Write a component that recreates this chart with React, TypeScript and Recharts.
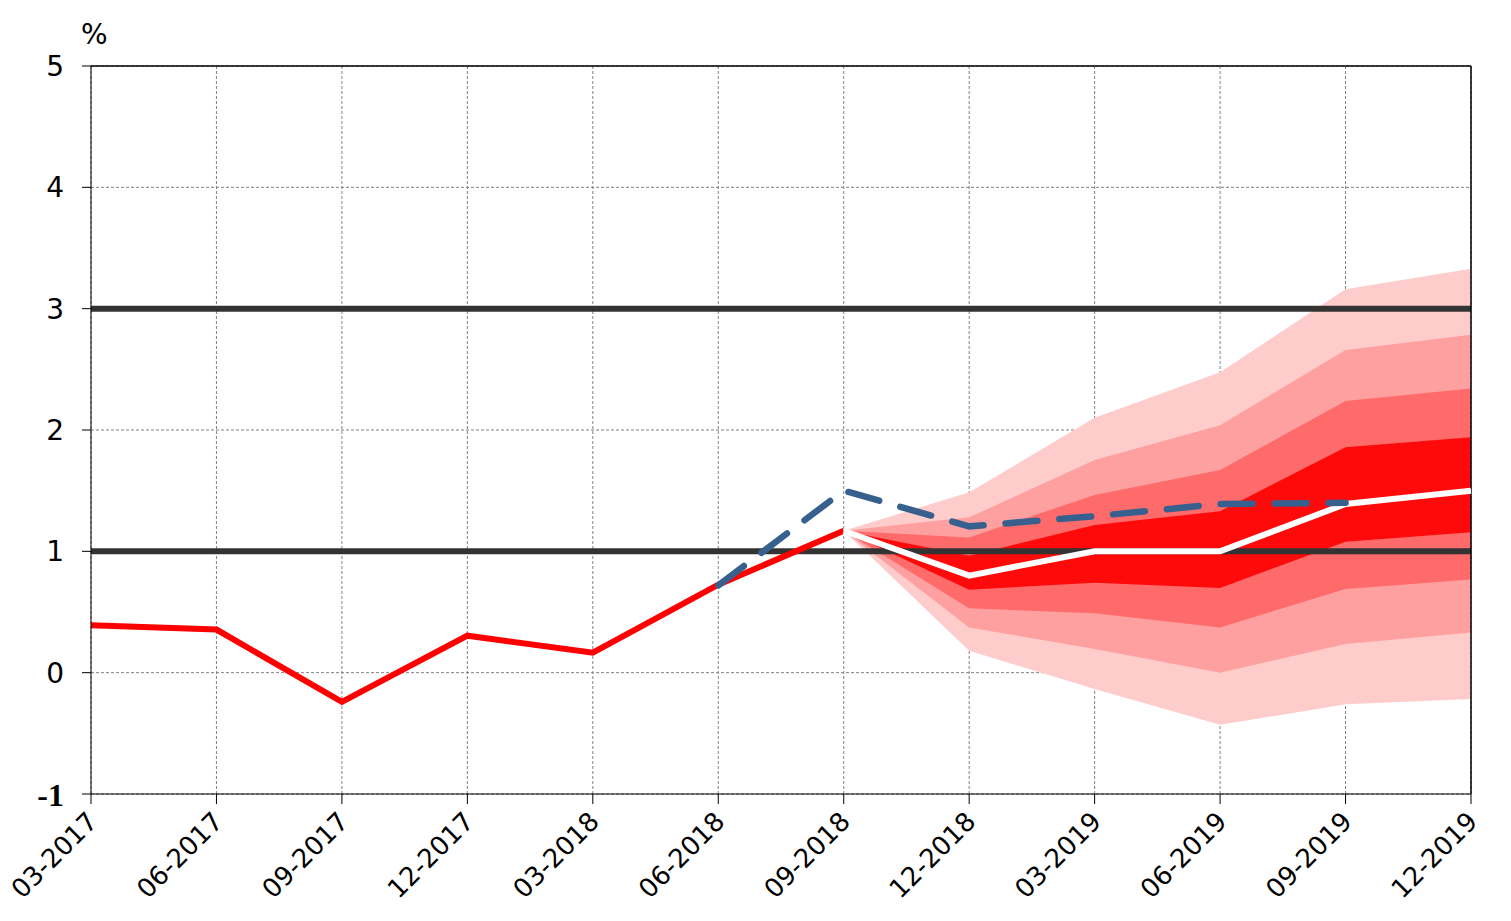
import { Area, CartesianGrid, ComposedChart, Line, ReferenceLine, XAxis, YAxis } from 'recharts'

const QUARTERS = [
  '03-2017', '06-2017', '09-2017', '12-2017', '03-2018', '06-2018',
  '09-2018', '12-2018', '03-2019', '06-2019', '09-2019', '12-2019',
]
const Y_TICKS = [-1, 0, 1, 2, 3, 4, 5]

// realised inflation
const actual = [0.39, 0.355, -0.24, 0.305, 0.165, 0.725, 1.17, null, null, null, null, null]
// central projection (white)
const central = [null, null, null, null, null, null, 1.17, 0.8, 1.0, 1.0, 1.39, 1.5]
// previous projection (blue dashed)
const previous = [null, null, null, null, null, 0.72, 1.5, 1.206, 1.29, 1.39, 1.4, null]

// fan bands, outermost first
const outerLo = [null, null, null, null, null, null, 1.17, 0.18, -0.135, -0.43, -0.26, -0.217]
const outerHi = [null, null, null, null, null, null, 1.17, 1.486, 2.1, 2.475, 3.16, 3.33]
const band2Lo = [null, null, null, null, null, null, 1.17, 0.373, 0.195, 0.0, 0.236, 0.332]
const band2Hi = [null, null, null, null, null, null, 1.17, 1.28, 1.753, 2.04, 2.66, 2.786]
const band3Lo = [null, null, null, null, null, null, 1.17, 0.53, 0.489, 0.373, 0.69, 0.767]
const band3Hi = [null, null, null, null, null, null, 1.17, 1.115, 1.465, 1.67, 2.24, 2.343]
const innerLo = [null, null, null, null, null, null, 1.17, 0.684, 0.742, 0.698, 1.08, 1.157]
const innerHi = [null, null, null, null, null, null, 1.17, 0.964, 1.217, 1.33, 1.857, 1.94]

const data = QUARTERS.map((q, i) => ({
  q,
  actual: actual[i],
  central: central[i],
  previous: previous[i],
  outer: outerLo[i] == null ? null : [outerLo[i], outerHi[i]],
  band2: band2Lo[i] == null ? null : [band2Lo[i], band2Hi[i]],
  band3: band3Lo[i] == null ? null : [band3Lo[i], band3Hi[i]],
  inner: innerLo[i] == null ? null : [innerLo[i], innerHi[i]],
}))

const FONT = '"DejaVu Sans", sans-serif'

function XTick({ x, y, payload }: any) {
  return (
    <g transform={`translate(${x + 8},${y + 19})`}>
      <text textAnchor="end" transform="rotate(-45)" fontFamily={FONT} fontSize={26} fill="#000">
        {payload.value}
      </text>
    </g>
  )
}

function YTick({ x, y, payload }: any) {
  const neg = payload.value < 0
  return (
    <text
      x={x}
      y={y}
      dy="0.36em"
      textAnchor="end"
      fontFamily={neg ? '"Liberation Serif", serif' : FONT}
      fontWeight={neg ? 'bold' : 'normal'}
      fontSize={neg ? 32 : 28}
      fill="#000"
    >
      {payload.value}
    </text>
  )
}

export default function App() {
  return (
    <div style={{ position: 'relative', width: 1511, height: 913, margin: '-8px 0 0 -8px' }}>
      <ComposedChart
        width={1511}
        height={913}
        data={data}
        margin={{ top: 66, right: 40, left: 0, bottom: 9 }}
      >
        <CartesianGrid stroke="#808080" strokeDasharray="3 2" />
        <XAxis
          dataKey="q"
          scale="point"
          interval={0}
          height={110}
          tickSize={10}
          tickMargin={0}
          stroke="#000"
          tick={<XTick />}
        />
        <YAxis
          domain={[-1, 5]}
          ticks={Y_TICKS}
          width={91}
          tickSize={9}
          tickMargin={18}
          stroke="#000"
          tick={<YTick />}
        />
        <Area dataKey="outer" stroke="none" fill="#FFCCCC" fillOpacity={1} isAnimationActive={false} />
        <Area dataKey="band2" stroke="none" fill="#FFA0A0" fillOpacity={1} isAnimationActive={false} />
        <Area dataKey="band3" stroke="none" fill="#FF6A6A" fillOpacity={1} isAnimationActive={false} />
        <Area dataKey="inner" stroke="none" fill="#FF0A0A" fillOpacity={1} isAnimationActive={false} />
        <ReferenceLine y={1} stroke="#333333" strokeWidth={6} />
        <ReferenceLine y={3} stroke="#333333" strokeWidth={6} />
        <ReferenceLine y={5} stroke="#000" strokeWidth={1.5} />
        <ReferenceLine x="12-2019" stroke="#000" strokeWidth={1.5} />
        <Line dataKey="actual" stroke="#FF0000" strokeWidth={6} dot={false} isAnimationActive={false} />
        <Line dataKey="central" stroke="#FFFFFF" strokeWidth={6} dot={false} isAnimationActive={false} />
        <Line
          dataKey="previous"
          stroke="#38608F"
          strokeWidth={6.5}
          strokeDasharray="32 22"
          strokeLinecap="round"
          dot={false}
          isAnimationActive={false}
        />
      </ComposedChart>
      <svg width={200} height={60} style={{ position: 'absolute', left: 0, top: 0, pointerEvents: 'none' }}>
        <text x={81} y={44} fontFamily={FONT} fontSize={28} fill="#000">%</text>
      </svg>
    </div>
  )
}
